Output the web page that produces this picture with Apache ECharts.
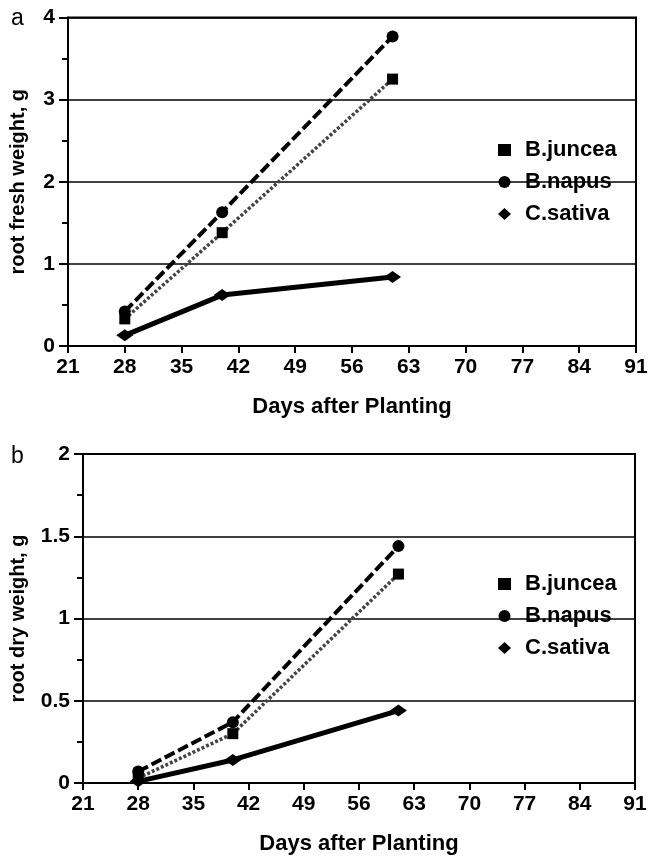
<!DOCTYPE html>
<html>
<head>
<meta charset="utf-8">
<script src="https://cdn.jsdelivr.net/npm/echarts@6/dist/echarts.min.js"></script>
<style>
html,body{margin:0;padding:0;background:#fff;}
#c{width:651px;height:858px;}
</style>
</head>
<body>
<div id="c"></div>
<script>
// ---- data ----
var seriesNames = ['B.juncea', 'B.napus', 'C.sativa'];
var days = [28, 40, 61];
var freshJuncea = [0.33, 1.38, 3.25];
var freshNapus = [0.42, 1.63, 3.77];
var freshSativa = [0.13, 0.62, 0.84];
var dryJuncea = [0.03, 0.30, 1.27];
var dryNapus = [0.07, 0.37, 1.44];
var drySativa = [0.01, 0.14, 0.44];
var xTitle = 'Days after Planting';
var yTitleA = 'root fresh weight, g';
var yTitleB = 'root dry weight, g';

function pairs(xs, ys) { return xs.map(function (x, i) { return [x, ys[i]]; }); }

var FONT = 'Liberation Sans, Arial, sans-serif';
var styles = [
  { symbol: 'rect', symbolSize: 11, line: { color: '#444', width: 3.5, type: [3, 2] } },
  { symbol: 'circle', symbolSize: 12, line: { color: '#000', width: 4, type: [11, 4] } },
  { symbol: 'diamond', symbolSize: [17, 12], line: { color: '#000', width: 5, type: 'solid' } }
];

function mkSeries(name, idx, data, axisIdx) {
  var s = styles[idx];
  return {
    type: 'line', name: name, xAxisIndex: axisIdx, yAxisIndex: axisIdx,
    data: pairs(days, data), symbol: s.symbol, symbolSize: s.symbolSize,
    showSymbol: true, animation: false,
    itemStyle: { color: '#000' },
    lineStyle: s.line
  };
}

function mkX(gi, nameGap) {
  return {
    type: 'value', gridIndex: gi, min: 21, max: 91, interval: 7,
    name: xTitle, nameLocation: 'middle', nameGap: nameGap,
    nameTextStyle: { fontFamily: FONT, fontWeight: 'bold', fontSize: 22, color: '#000' },
    axisLine: { show: true, onZero: false, lineStyle: { color: '#000', width: 2 } },
    axisTick: { show: true, length: 7, lineStyle: { color: '#000', width: 2 } },
    axisLabel: { fontFamily: FONT, fontWeight: 'bold', fontSize: 21, color: '#000', margin: 11 },
    splitLine: { show: false }
  };
}
function mkY(gi, max, interval, name, nameGap) {
  return {
    type: 'value', gridIndex: gi, min: 0, max: max, interval: interval,
    name: name, nameLocation: 'middle', nameGap: nameGap, nameRotate: 90,
    nameTextStyle: { fontFamily: FONT, fontWeight: 'bold', fontSize: 20, color: '#000' },
    axisLine: { show: true, lineStyle: { color: '#000', width: 2 } },
    axisTick: { show: true, length: 9, lineStyle: { color: '#000', width: 2 } },
    minorTick: { show: true, splitNumber: 2, length: 6, lineStyle: { color: '#000', width: 2 } },
    axisLabel: { fontFamily: FONT, fontWeight: 'bold', fontSize: 21, color: '#000', margin: 13 },
    splitLine: { show: true, lineStyle: { color: '#000', width: 1.5 } }
  };
}
function mkLegend(top) {
  return {
    orient: 'vertical', left: 493, top: top, itemWidth: 13, itemHeight: 12, itemGap: 10,
    textStyle: { fontFamily: FONT, fontWeight: 'bold', fontSize: 22, color: '#000', padding: [0, 0, 0, 9] },
    selectedMode: false,
    data: [
      { name: seriesNames[0], icon: 'rect', itemStyle: { color: '#000' } },
      { name: seriesNames[1], icon: 'circle', itemStyle: { color: '#000' } },
      { name: seriesNames[2], icon: 'diamond', itemStyle: { color: '#000' } }
    ]
  };
}

var chart = echarts.init(document.getElementById('c'), null, { renderer: 'canvas' });
chart.setOption({
  backgroundColor: '#fff',
  animation: false,
  title: [
    { text: 'a', left: 6, top: 2, textStyle: { fontFamily: FONT, fontWeight: 'normal', fontSize: 23, color: '#000' } },
    { text: 'b', left: 6, top: 440, textStyle: { fontFamily: FONT, fontWeight: 'normal', fontSize: 23, color: '#000' } }
  ],
  grid: [
    { left: 66, top: 17.5, width: 570, height: 328.5, show: true, borderColor: '#000', borderWidth: 2, backgroundColor: 'transparent' },
    { left: 83, top: 454, width: 552, height: 329, show: true, borderColor: '#000', borderWidth: 2, backgroundColor: 'transparent' }
  ],
  legend: [mkLegend(134), mkLegend(568)],
  xAxis: [mkX(0, 50), mkX(1, 50)],
  yAxis: [mkY(0, 4, 1, yTitleA, 40), mkY(1, 2, 0.5, yTitleB, 55)],
  series: [
    mkSeries(seriesNames[0], 0, freshJuncea, 0),
    mkSeries(seriesNames[1], 1, freshNapus, 0),
    mkSeries(seriesNames[2], 2, freshSativa, 0),
    mkSeries(seriesNames[0], 0, dryJuncea, 1),
    mkSeries(seriesNames[1], 1, dryNapus, 1),
    mkSeries(seriesNames[2], 2, drySativa, 1)
  ]
});
</script>
</body>
</html>
